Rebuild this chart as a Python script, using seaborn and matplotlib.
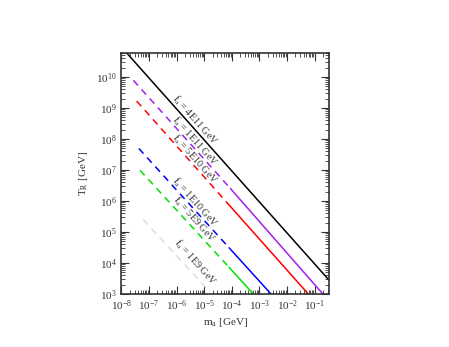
import numpy as np
import pandas as pd
import matplotlib
matplotlib.use("Agg")
import matplotlib.pyplot as plt
import seaborn as sns

sns.set_style("ticks")
plt.rcParams['font.family'] = ['Liberation Serif', 'DejaVu Serif']
plt.rcParams['mathtext.fontset'] = 'stix'

# decay constants and line colours
f_labels = ['4E11', '1E11', '5E10', '1E10', '5E9', '1E9']
colors = ['black', '#a020f0', '#ff0000', '#0000ff', '#00e000', '#dcdcdc']

# dashed part of each curve (log10 m_a, log10 T_R); None = no dashed part
dash_m = [None, (-7.57, -4.05), (-7.45, -4.2), (-7.37, -4.1), (-7.33, -4.1), (-7.21, -4.79)]
dash_T = [None, (9.89, 6.40), (9.22, 5.97), (7.69, 4.49), (6.99, 3.86), (5.40, 3.06)]
# solid part of each curve
solid_m = [(-8.0, -0.48), (-4.05, -0.70), (-4.2, -1.23), (-4.1, -2.58), (-4.1, -3.22), None]
solid_T = [(10.96, 3.45), (6.40, 3.0), (5.97, 3.0), (4.49, 3.0), (3.86, 3.0), None]

# label centres (log10 m_a, log10 T_R)
lab_m = [-5.33, -5.33, -5.33, -5.33, -5.36, -5.33]
lab_T = [8.62, 7.92, 7.34, 5.96, 5.41, 4.02]

fig = plt.figure(figsize=(4.49, 3.47), dpi=100)
ax = fig.add_axes([0.2706, 0.1527, 0.4621, 0.6954])

for i, f in enumerate(f_labels):
    if dash_m[i] is not None:
        d = pd.DataFrame({'m': 10.0 ** np.array(dash_m[i]), 'T': 10.0 ** np.array(dash_T[i])})
        sns.lineplot(data=d, x='m', y='T', ax=ax, color=colors[i], lw=1.1,
                     linestyle=(0, (4.5, 3.5)), sort=False)
    if solid_m[i] is not None:
        s = pd.DataFrame({'m': 10.0 ** np.array(solid_m[i]), 'T': 10.0 ** np.array(solid_T[i])})
        sns.lineplot(data=s, x='m', y='T', ax=ax, color=colors[i], lw=1.1, sort=False)
    ax.text(10.0 ** lab_m[i], 10.0 ** lab_T[i], r'f$_{\rm a}$ = ' + f + ' GeV',
            rotation=-48.5, rotation_mode='anchor', ha='center', va='center',
            fontsize=7.3, color='#333333')

ax.set_xscale('log')
ax.set_yscale('log')
ax.set_xlim(1e-8, 10 ** -0.48)
ax.set_ylim(1e3, 10 ** 10.78)
ax.set_xticks([10.0 ** k for k in range(-8, 0)])
ax.set_yticks([10.0 ** k for k in range(3, 11)])
ax.xaxis.set_minor_locator(matplotlib.ticker.LogLocator(base=10, subs=np.arange(2, 10), numticks=20))
ax.yaxis.set_minor_locator(matplotlib.ticker.LogLocator(base=10, subs=np.arange(2, 10), numticks=20))
ax.xaxis.set_minor_formatter(matplotlib.ticker.NullFormatter())
ax.yaxis.set_minor_formatter(matplotlib.ticker.NullFormatter())
ax.tick_params(which='both', direction='in', top=True, right=True, labelsize=8, colors='#333333')
ax.tick_params(which='major', length=6, width=0.8)
ax.tick_params(which='minor', length=3, width=0.6)
for sp in ax.spines.values():
    sp.set_linewidth(1.2)
    sp.set_color('#333333')

ax.set_xlabel(r'm$_{\rm a}$ [GeV]', fontsize=8, labelpad=2, color='#333333')
ax.set_ylabel(r'T$_{\rm R}$ [GeV]', fontsize=8, labelpad=4, color='#333333')

fig.savefig('out.png', dpi=100)
